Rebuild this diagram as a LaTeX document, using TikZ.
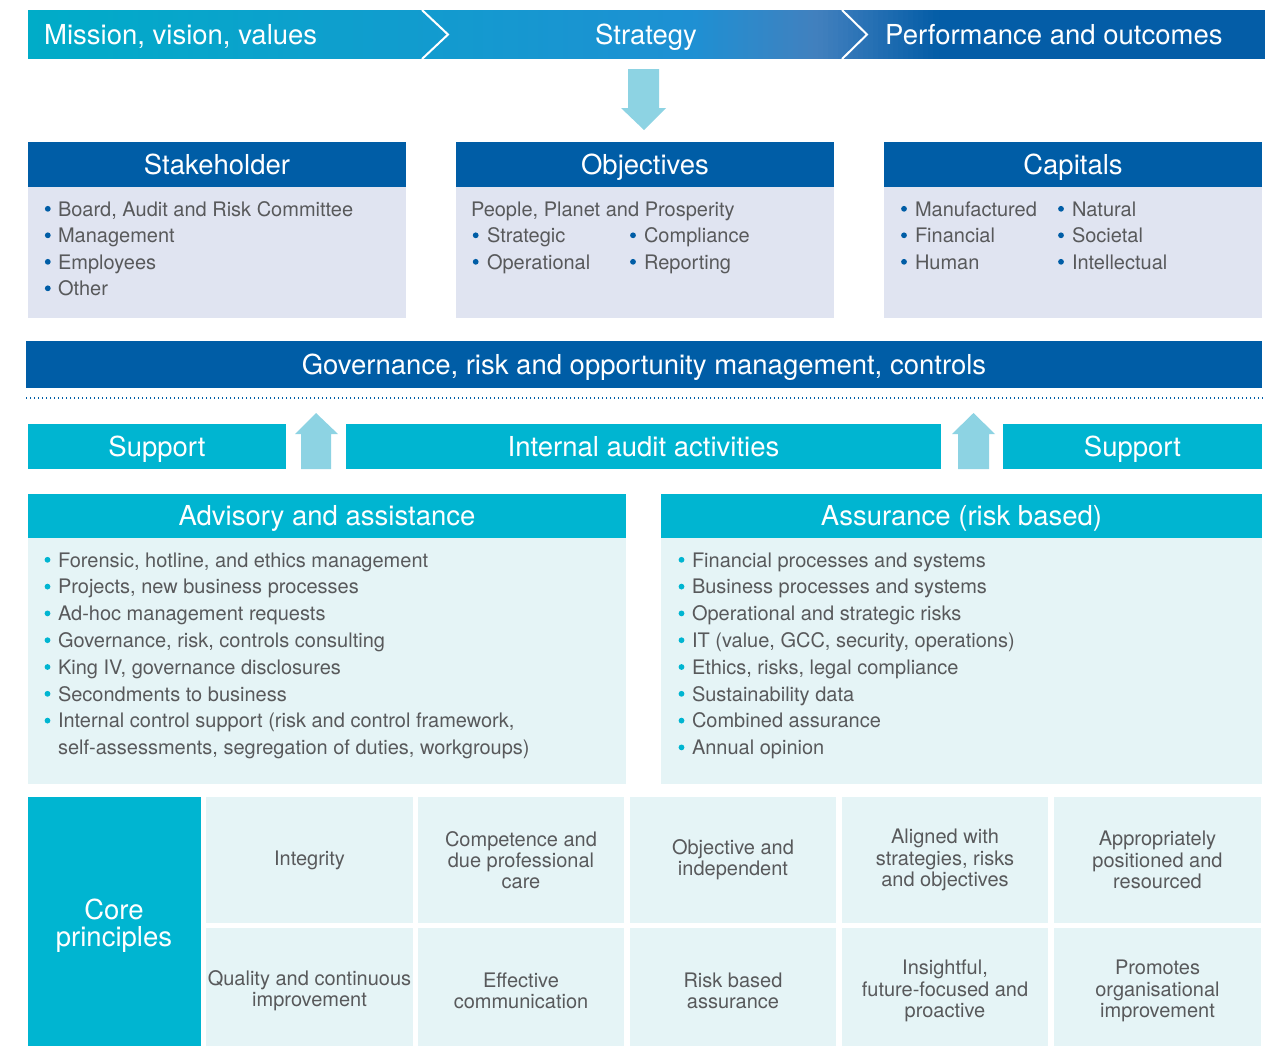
\documentclass[tikz,border=0pt]{standalone}
\usepackage{fontspec}
\setmainfont{TeX Gyre Heros}
\definecolor{dblue}{RGB}{0,93,166}
\definecolor{cteal}{RGB}{0,181,209}
\definecolor{lav}{RGB}{224,228,241}
\definecolor{ltl}{RGB}{229,244,246}
\definecolor{arr}{RGB}{141,211,227}
\definecolor{gtext}{RGB}{88,89,91}
\definecolor{bnA}{RGB}{0,172,200}
\definecolor{bnB}{RGB}{30,144,211}
\definecolor{bnM}{RGB}{66,128,190}
\definecolor{bnC}{RGB}{4,93,167}
\newcommand\hfont{\fontsize{27.5}{27}\selectfont}
\newcommand\bfont{\fontsize{20}{21.3}\selectfont}
\tikzset{
  panel/.style={anchor=north west, inner sep=0pt, outer sep=0pt, draw=none},
  hdr/.style={text=white, font=\hfont, text height=19.7pt, text depth=0pt, inner sep=0pt},
  item/.style={anchor=base west, inner sep=0pt, outer sep=0pt, text=gtext, font=\bfont},
  cell/.style={panel, fill=ltl, text=gtext, font=\bfont, align=center, minimum height=126pt},
}
\begin{document}
\begin{tikzpicture}[x=1pt,y=-1pt]
\useasboundingbox (0,0) rectangle (1271,1045);
\clip (0,0) rectangle (1271,1045);

% ---- banner (gradient built from thin strips)
\fill[bnC] (28,10) rectangle (1265,59);
\foreach \k in {0,...,181}{
  \pgfmathsetmacro\xx{28+5*\k}
  \ifdim\xx pt<690pt
    \pgfmathtruncatemacro\pa{round((\xx-28)/6.62)}\def\cc{bnB!\pa!bnA}%
  \else\ifdim\xx pt<815pt
    \pgfmathtruncatemacro\pa{round((\xx-690)/1.25)}\def\cc{bnM!\pa!bnB}%
  \else
    \pgfmathtruncatemacro\pa{min(100,round((\xx-815)/1.2))}\def\cc{bnC!\pa!bnM}%
  \fi\fi
  \fill[color=\cc] (\xx,10) rectangle (\xx+5.6,59);
}
\draw[white, line width=2pt] (422,10) -- (448,34.5) -- (422,59);
\draw[white, line width=2pt] (842,10) -- (867,34.5) -- (842,59);
\node[hdr, anchor=west] (mission) at (44,34.5) {Mission, vision, values};
\node[hdr] (strategy) at (646,34.5) {Strategy};
\node[hdr, anchor=west] (perf) at (885,34.5) {Performance and outcomes};

% ---- down arrow
\fill[arr] (628,69) -- (659,69) -- (659,108) -- (666,108) -- (644,130) -- (621,108) -- (628,108) -- cycle;

% ---- three top boxes
\node[panel, fill=dblue, minimum width=378pt, minimum height=45pt] (stkH) at (28,142) {};
\node[hdr] (stkT) at (stkH.center) {Stakeholder};
\node[panel, fill=lav, minimum width=378pt, minimum height=131pt] (stkB) at (28,187) {};
\node[panel, fill=dblue, minimum width=378pt, minimum height=45pt] (objH) at (456,142) {};
\node[hdr] (objT) at (objH.center) {Objectives};
\node[panel, fill=lav, minimum width=378pt, minimum height=131pt] (objB) at (456,187) {};
\node[panel, fill=dblue, minimum width=378pt, minimum height=45pt] (capH) at (884,142) {};
\node[hdr] (capT) at (capH.center) {Capitals};
\node[panel, fill=lav, minimum width=378pt, minimum height=131pt] (capB) at (884,187) {};

\foreach \t [count=\i from 0] in {{Board, Audit and Risk Committee},{Management},{Employees},{Other}}{
  \node[item] (stk\i) at (58,{216+26.5*\i}) {\t};
  \fill[dblue] (47.8,{216+26.5*\i-7.2}) circle (2.9pt);
}

\node[item] (obj0) at (471,216) {People, Planet and Prosperity};
\node[item] (obj1) at (487,242.5) {Strategic};
\node[item] (obj2) at (487,269) {Operational};
\node[item] (obj3) at (644,242.5) {Compliance};
\node[item] (obj4) at (644,269) {Reporting};
\foreach \yy in {242.5,269}{
  \fill[dblue] (475.7,\yy-7.2) circle (2.9pt);
  \fill[dblue] (633,\yy-7.2) circle (2.9pt);
}

\foreach \t [count=\i from 0] in {{Manufactured},{Financial},{Human}}{
  \node[item] (capa\i) at (915,{216+26.5*\i}) {\t};
  \fill[dblue] (904,{216+26.5*\i-7.2}) circle (2.9pt);
}
\foreach \t [count=\i from 0] in {{Natural},{Societal},{Intellectual}}{
  \node[item] (capb\i) at (1072,{216+26.5*\i}) {\t};
  \fill[dblue] (1061,{216+26.5*\i-7.2}) circle (2.9pt);
}

% ---- governance bar
\node[panel, fill=dblue, minimum width=1236pt, minimum height=47pt] (gov) at (26,341) {};
\node[hdr] (govT) at (gov.center) {Governance, risk and opportunity management, controls};
\draw[dblue, line width=1.3pt, dash pattern=on 1.3pt off 2.7pt] (26,398) -- (1265,398);

% ---- support row
\node[panel, fill=cteal, minimum width=258pt, minimum height=45pt] (supL) at (28,424) {};
\node[hdr] (supLT) at (supL.center) {Support};
\node[panel, fill=cteal, minimum width=595pt, minimum height=45pt] (ia) at (346,424) {};
\node[hdr] (iaT) at (ia.center) {Internal audit activities};
\node[panel, fill=cteal, minimum width=259pt, minimum height=45pt] (supR) at (1003,424) {};
\node[hdr] (supRT) at (supR.center) {Support};
\fill[arr] (301,469) -- (301,434) -- (295,434) -- (316,413) -- (338,434) -- (331,434) -- (331,469) -- cycle;
\fill[arr] (958,469) -- (958,434) -- (952,434) -- (973.5,413) -- (995,434) -- (989,434) -- (989,469) -- cycle;

% ---- advisory / assurance
\node[panel, fill=cteal, minimum width=598pt, minimum height=44pt] (advH) at (28,494) {};
\node[hdr] (advT) at (advH.center) {Advisory and assistance};
\node[panel, fill=ltl, minimum width=598pt, minimum height=246pt] (advB) at (28,538) {};
\node[panel, fill=cteal, minimum width=601pt, minimum height=44pt] (asuH) at (661,494) {};
\node[hdr] (asuT) at (asuH.center) {Assurance (risk based)};
\node[panel, fill=ltl, minimum width=601pt, minimum height=246pt] (asuB) at (661,538) {};

\foreach \t [count=\i from 0] in {{Forensic, hotline, and ethics management},{Projects, new business processes},{Ad-hoc management requests},{Governance, risk, controls consulting},{King IV, governance disclosures},{Secondments to business},{Internal control support (risk and control framework,}}{
  \node[item] (adv\i) at (58,{567+26.8*\i}) {\t};
  \fill[cteal] (47.5,{567+26.8*\i-7.2}) circle (2.9pt);
}
\node[item] (adv7) at (58,{567+26.8*7}) {self-assessments, segregation of duties, workgroups)};

\foreach \t [count=\i from 0] in {{Financial processes and systems},{Business processes and systems},{Operational and strategic risks},{IT (value, GCC, security, operations)},{Ethics, risks, legal compliance},{Sustainability data},{Combined assurance},{Annual opinion}}{
  \node[item] (asu\i) at (692,{567+26.8*\i}) {\t};
  \fill[cteal] (681.5,{567+26.8*\i-7.2}) circle (2.9pt);
}

% ---- core principles
\node[panel, fill=cteal, minimum width=173pt, minimum height=260pt] (core) at (28,797) {};
\node[text=white, font=\hfont, align=center, inner sep=0pt] (coreT) at (114,926) {Core\\principles};

\node[cell, minimum width=207pt] (c11) at (206,797) {Integrity};
\node[cell, minimum width=206pt] (c12) at (418,797) {Competence and\\due professional\\care};
\node[cell, minimum width=206pt] (c13) at (630,797) {Objective and\\independent};
\node[cell, minimum width=206pt] (c14) at (842,797) {Aligned with\\strategies, risks\\and objectives};
\node[cell, minimum width=207pt] (c15) at (1054,797) {Appropriately\\positioned and\\resourced};
\node[cell, minimum width=207pt] (c21) at (206,928) {Quality and continuous\\improvement};
\node[cell, minimum width=206pt] (c22) at (418,928) {Effective\\communication};
\node[cell, minimum width=206pt] (c23) at (630,928) {Risk based\\assurance};
\node[cell, minimum width=206pt] (c24) at (842,928) {Insightful,\\future-focused and\\proactive};
\node[cell, minimum width=207pt] (c25) at (1054,928) {Promotes\\organisational\\improvement};
\end{tikzpicture}
\end{document}
